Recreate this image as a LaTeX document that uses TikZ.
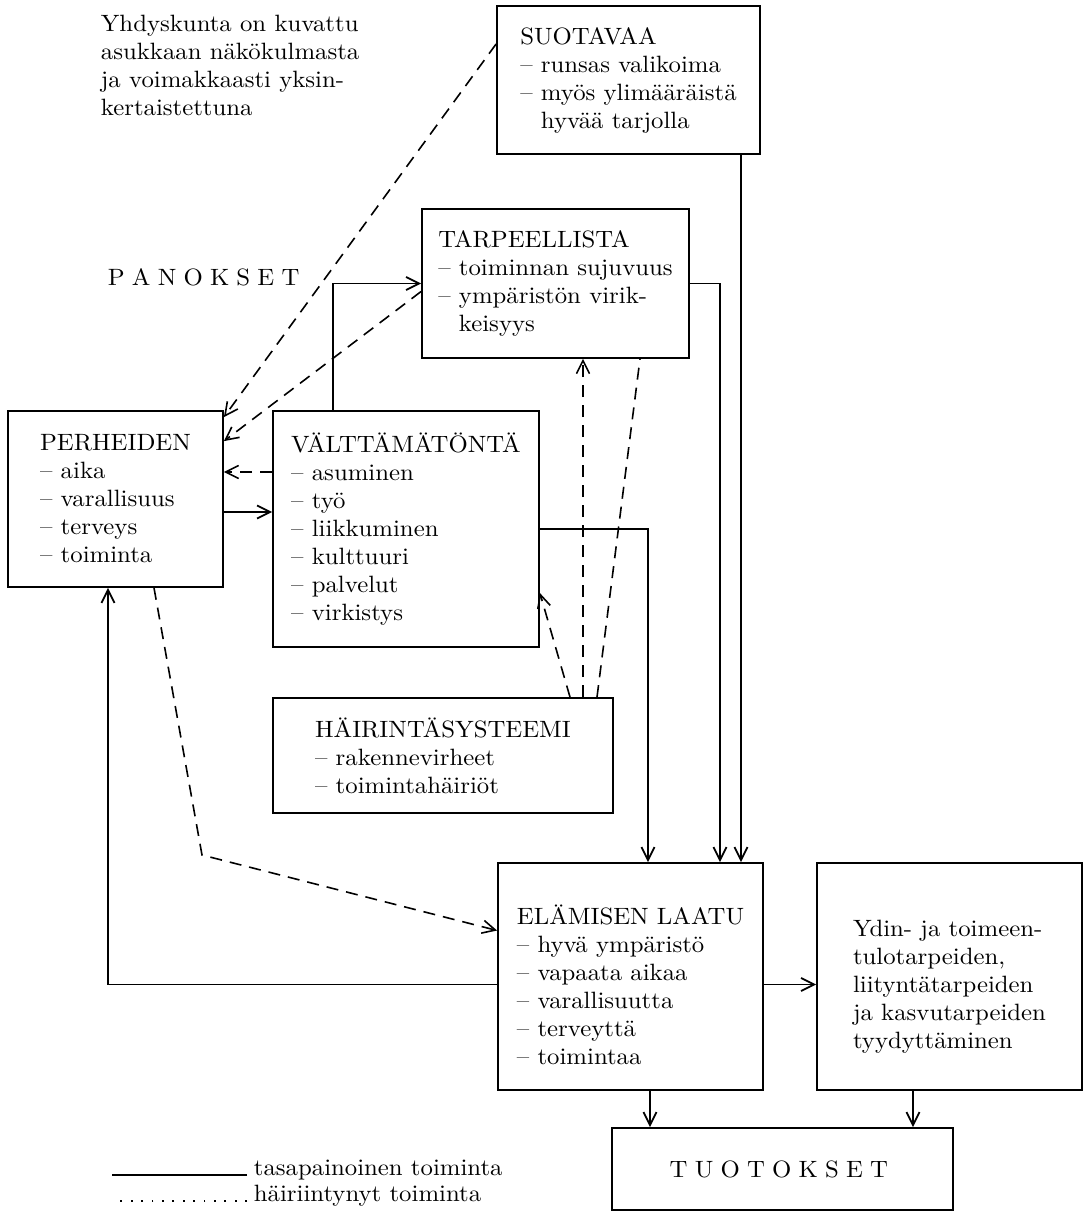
\documentclass[tikz,border=0pt]{standalone}
\usepackage{fontspec}
\setmainfont{lmroman10-regular.otf}[FakeStretch=1.05]
\usepackage{tikz}
\usetikzlibrary{arrows.meta,calc}

% letter-spaced capitals
\newcommand{\spreadword}[1]{\spreadloop#1\relax}
\def\spreadloop#1{\ifx#1\relax\else#1\kern3.6pt\expandafter\spreadloop\fi}

\begin{document}
\begin{tikzpicture}[x=0.5pt, y=-0.5pt, line width=0.9pt,
    >={Straight Barb[length=6.5pt,width=6.5pt]},
    txt/.style={font=\fontsize{11.8}{14}\selectfont, align=left, inner sep=0pt},
    box/.style={txt, draw},
    disturbed/.style={line width=0.8pt, dash pattern=on 6pt off 4pt}]
    \useasboundingbox (0,0) rectangle (1090,1225);
    % Texts
    \node[txt, anchor=north west] (intro) at (100,14) {Yhdyskunta on kuvattu\\asukkaan näkökulmasta\\ja voimakkaasti yksin-\\kertaistettuna};
    \node[txt, anchor=west] (panos) at (107,277) {\spreadword{PANOKSET}};
    % Boxes
    \node[box, minimum width=131.5pt, minimum height=74pt] (suot) at (628.5,80) {SUOTAVAA\\-- runsas valikoima\\-- myös ylimääräistä\\\hphantom{-- }hyvää tarjolla};
    \node[box, minimum width=133.5pt, minimum height=74.5pt] (tarp) at (555.5,283.5) {TARPEELLISTA\\-- toiminnan sujuvuus\\-- ympäristön virik-\\\hphantom{-- }keisyys};
    \node[box, minimum width=107.5pt, minimum height=88pt] (perh) at (115.5,499) {PERHEIDEN\\-- aika\\-- varallisuus\\-- terveys\\-- toiminta};
    \node[box, minimum width=133pt, minimum height=118pt] (valt) at (406,529) {VÄLTTÄMÄTÖNTÄ\\-- asuminen\\-- työ\\-- liikkuminen\\-- kulttuuri\\-- palvelut\\-- virkistys};
    \node[box, minimum width=170pt, minimum height=57.5pt] (hair) at (443,755.5) {HÄIRINTÄSYSTEEMI\\-- rakennevirheet\\-- toimintahäiriöt};
    \node[box, minimum width=132.5pt, minimum height=113.5pt] (elam) at (630.5,976.5) {\rule{0pt}{18pt}ELÄMISEN LAATU\\-- hyvä ympäristö\\-- vapaata aikaa\\-- varallisuutta\\-- terveyttä\\-- toimintaa};
    \node[box, minimum width=132.5pt, minimum height=113.5pt] (ydin) at (949.5,976.5) {\rule{0pt}{18pt}Ydin- ja toimeen-\\tulotarpeiden,\\liityntätarpeiden\\ja kasvutarpeiden\\tyydyttäminen};
    \node[box, minimum width=170.5pt, minimum height=41pt] (tuot) at (782.5,1169) {\spreadword{TUOTOKSET}};
    % Balanced flows
    \coordinate (xv) at (648,0);
    \coordinate (xt) at (720,0);
    \coordinate (xs) at (741,0);
    \draw[->] (xs |- suot.south) -- (xs |- elam.north);
    \draw[->] (tarp.east) -| (xt |- elam.north);
    \draw[->] (valt.east) -| (xv |- elam.north);
    \draw[->] ($(valt.north)+(-73,0)$) |- (tarp.west);
    \draw[->] ($(perh.east)+(0,13)$) coordinate (p1) -- (p1 -| valt.west);
    \draw[->] ($(elam.west)+(0,8)$) -| ($(perh.south)+(-7.5,0)$);
    \draw[->] ($(elam.east)+(0,8)$) coordinate (e2) -- (e2 -| ydin.west);
    \draw[->] ($(elam.south)+(19.5,0)$) coordinate (e3) -- (e3 |- tuot.north);
    \draw[->] ($(ydin.south)+(-36.5,0)$) coordinate (y1) -- (y1 |- tuot.north);
    % Disturbed flows
    \draw[disturbed, ->] ($(valt.west)+(0,-57)$) coordinate (v1) -- (v1 -| perh.east);
    \draw[disturbed, ->] ($(suot.west)+(0,-36)$) -- ($(perh.north east)+(0,7)$);
    \draw[disturbed, ->] ($(tarp.west)+(0,8)$) -- ($(perh.north east)+(0,31)$);
    \draw[disturbed, ->] ($(hair.north)+(127,0)$) -- ($(valt.east)+(0,64)$);
    \draw[disturbed, ->] ($(hair.north)+(140,0)$) coordinate (h2) -- (h2 |- tarp.south);
    \draw[disturbed] ($(hair.north)+(154,0)$) -- ($(tarp.south)+(84.5,0)$);
    \coordinate (bend) at (202,855);
    \draw[disturbed, ->] ($(perh.south)+(38.5,0)$) -- (bend) -- ($(elam.west)+(0,-46)$);
    % Legend
    \node[txt, anchor=base west] (lgok) at (253,1175) {tasapainoinen toiminta};
    \node[txt, anchor=base west] (lgbad) at (253,1201) {häiriintynyt toiminta};
    \draw[line width=0.6pt] ($(lgok.base west)+(-6,0)$) -- ++(-135,0);
    \draw[line width=0.8pt, dash pattern=on 0.9pt off 4.3pt] ($(lgbad.base west)+(-6,0)$) -- ++(-135,0);
\end{tikzpicture}
\end{document}
